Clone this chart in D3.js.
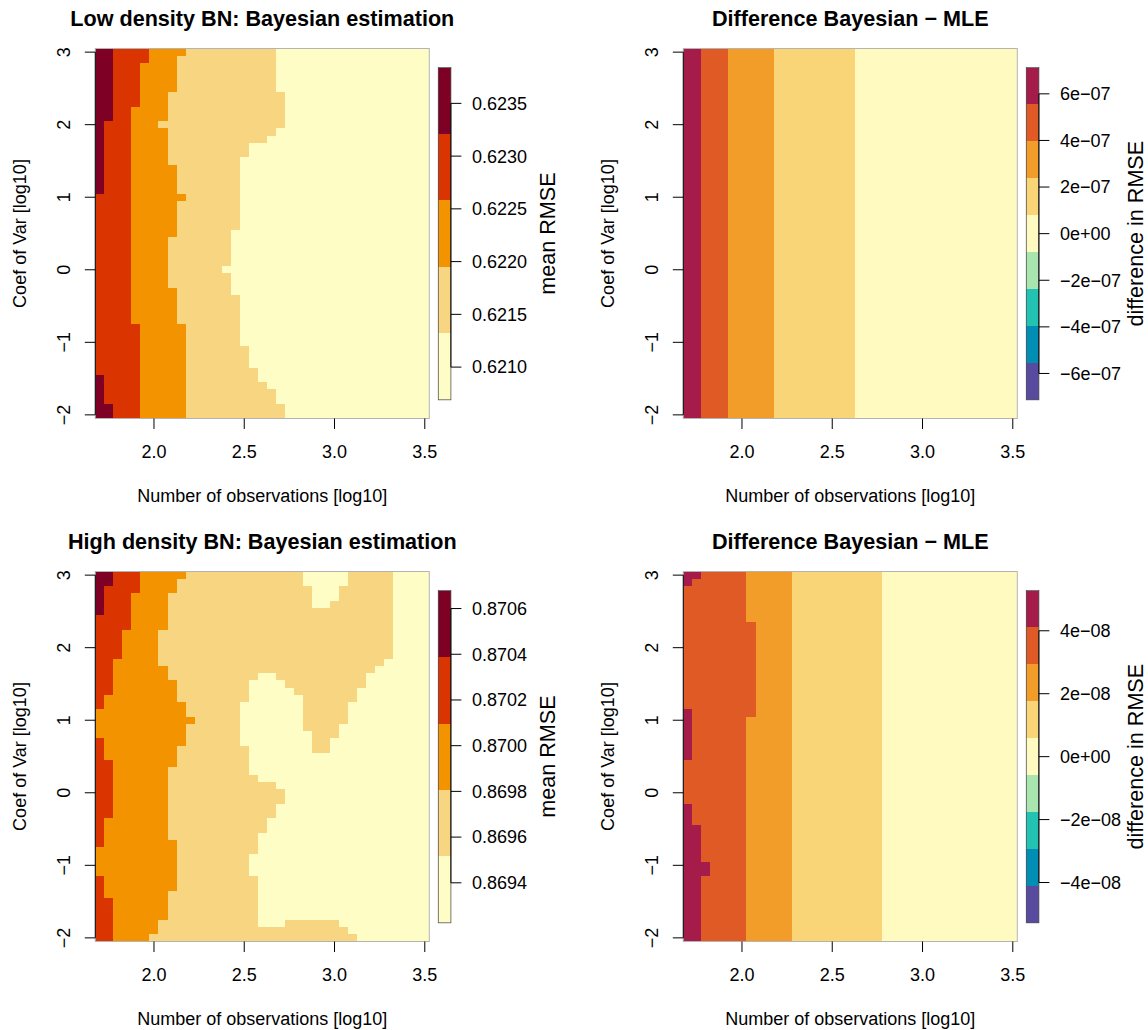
<!DOCTYPE html>
<html lang="en">
<head>
<meta charset="UTF-8">
<title>Bayesian estimation vs MLE - RMSE</title>
<script src="https://cdn.jsdelivr.net/npm/d3@7"></script>
<style>
  body { margin: 0; background: white; }
  svg text { font-family: "Liberation Sans", Arial, Helvetica, sans-serif; fill: black; }
  .cell { shape-rendering: crispEdges; }
  .title { font-weight: bold; font-size: 21.6px; }
  .tick-label, .axis-label { font-size: 18px; }
  .legend-label { font-size: 21.6px; }
</style>
</head>
<body>
<svg id="chart" width="1148" height="1030"></svg>
<script>
// grid: number of observations [log10] (columns) and coef of var [log10] (rows, top to bottom)
const xGrid = [1.70, 1.75, 1.80, 1.85, 1.90, 1.95, 2.00, 2.05, 2.10, 2.15, 2.20, 2.25, 2.30,
  2.35, 2.40, 2.45, 2.50, 2.55, 2.60, 2.65, 2.70, 2.75, 2.80, 2.85, 2.90, 2.95, 3.00, 3.05,
  3.10, 3.15, 3.20, 3.25, 3.30, 3.35, 3.40, 3.45, 3.50];
const yGrid = [3.0, 2.9, 2.8, 2.7, 2.6, 2.5, 2.4, 2.3, 2.2, 2.1, 2.0, 1.9, 1.8, 1.7, 1.6, 1.5,
  1.4, 1.3, 1.2, 1.1, 1.0, 0.9, 0.8, 0.7, 0.6, 0.5, 0.4, 0.3, 0.2, 0.1, 0.0, -0.1, -0.2, -0.3,
  -0.4, -0.5, -0.6, -0.7, -0.8, -0.9, -1.0, -1.1, -1.2, -1.3, -1.4, -1.5, -1.6, -1.7, -1.8,
  -1.9, -2.0];

const titles = ["Low density BN: Bayesian estimation", "Difference Bayesian \u2212 MLE",
  "High density BN: Bayesian estimation", "Difference Bayesian \u2212 MLE"];
const legendTitles = ["mean RMSE", "difference in RMSE", "mean RMSE", "difference in RMSE"];
const xTicks = [2.0, 2.5, 3.0, 3.5];
const yTicks = [-2, -1, 0, 1, 2, 3];

// colour classes, lowest class first
const rmseColors = ["#FEFDC6", "#F8D580", "#F39300", "#DA3500", "#7E0025"];
const diffColors = ["#584B9F", "#008EB4", "#22C3B3", "#A9E5AF", "#FEFAC0",
  "#FAD578", "#F29D29", "#E05A25", "#A51C4A"];

// class breaks of each panel
const lowRmseBreaks = [0.62069, 0.62132, 0.62195, 0.62258, 0.62321, 0.62384];
const lowDiffBreaks = [-7.13e-7, -5.546e-7, -3.962e-7, -2.377e-7, -0.792e-7,
  0.792e-7, 2.377e-7, 3.962e-7, 5.546e-7, 7.13e-7];
const highRmseBreaks = [0.869225, 0.869516, 0.869807, 0.870097, 0.870388, 0.870679];
const highDiffBreaks = [-5.28e-8, -4.107e-8, -2.933e-8, -1.76e-8, -0.587e-8,
  0.587e-8, 1.76e-8, 2.933e-8, 4.107e-8, 5.28e-8];

const lowRmseTicks = [0.6210, 0.6215, 0.6220, 0.6225, 0.6230, 0.6235];
const lowDiffTicks = [-6e-7, -4e-7, -2e-7, 0, 2e-7, 4e-7, 6e-7];
const highRmseTicks = [0.8694, 0.8696, 0.8698, 0.8700, 0.8702, 0.8704, 0.8706];
const highDiffTicks = [-4e-8, -2e-8, 0, 2e-8, 4e-8];

// class of every cell, row by row from the top: [rows repeated, "class:count ..."]
const lowRmseRows = [
  [1, "4:2 3:4 2:4 1:10 0:17"],
  [1, "4:2 3:4 2:3 1:11 0:17"],
  [4, "4:2 3:3 2:4 1:11 0:17"],
  [2, "4:2 3:3 2:3 1:13 0:16"],
  [2, "4:2 3:2 2:4 1:13 0:16"],
  [1, "4:1 3:3 2:3 1:14 0:16"],
  [1, "4:1 3:3 2:4 1:12 0:17"],
  [1, "4:1 3:3 2:4 1:11 0:18"],
  [2, "4:1 3:3 2:4 1:9 0:20"],
  [1, "4:1 3:3 2:4 1:8 0:21"],
  [4, "4:1 3:3 2:5 1:7 0:21"],
  [1, "3:4 2:6 1:6 0:21"],
  [4, "3:4 2:5 1:7 0:21"],
  [1, "3:4 2:5 1:6 0:22"],
  [4, "3:4 2:4 1:7 0:22"],
  [1, "3:4 2:4 1:6 0:23"],
  [2, "3:4 2:4 1:7 0:22"],
  [1, "3:4 2:5 1:6 0:22"],
  [4, "3:4 2:5 1:7 0:21"],
  [3, "3:5 2:5 1:6 0:21"],
  [3, "3:5 2:5 1:7 0:20"],
  [1, "3:5 2:5 1:8 0:19"],
  [1, "4:1 3:4 2:5 1:8 0:19"],
  [1, "4:1 3:4 2:5 1:9 0:18"],
  [2, "4:1 3:4 2:5 1:10 0:17"],
  [2, "4:2 3:3 2:5 1:11 0:16"]
];

const lowDiffRows = [
  [51, "8:2 7:3 6:5 5:9 4:18"]
];

const highRmseRows = [
  [1, "4:2 3:3 2:5 1:13 0:5 1:5 0:4"],
  [1, "4:2 3:3 2:4 1:14 0:5 1:5 0:4"],
  [1, "4:1 3:4 2:4 1:15 0:3 1:6 0:4"],
  [1, "4:1 3:3 2:4 1:16 0:3 1:6 0:4"],
  [1, "4:1 3:3 2:4 1:16 0:2 1:7 0:4"],
  [1, "4:1 3:3 2:4 1:25 0:4"],
  [2, "3:4 2:4 1:25 0:4"],
  [4, "3:3 2:4 1:26 0:4"],
  [1, "3:2 2:5 1:25 0:5"],
  [1, "3:2 2:6 1:23 0:6"],
  [1, "3:2 2:6 1:10 0:2 1:10 0:7"],
  [1, "3:2 2:7 1:8 0:4 1:9 0:7"],
  [1, "3:2 2:7 1:8 0:5 1:7 0:8"],
  [1, "3:1 2:8 1:8 0:6 1:6 0:8"],
  [1, "3:1 2:9 1:6 0:7 1:5 0:9"],
  [1, "2:10 1:6 0:7 1:5 0:9"],
  [1, "2:11 1:5 0:7 1:5 0:9"],
  [1, "2:10 1:6 0:7 1:4 0:10"],
  [1, "2:10 1:6 0:8 1:3 0:10"],
  [1, "3:1 2:9 1:6 0:8 1:2 0:11"],
  [1, "3:1 2:8 1:8 0:7 1:2 0:11"],
  [1, "3:1 2:8 1:8 0:20"],
  [1, "3:2 2:7 1:8 0:20"],
  [1, "3:2 2:6 1:9 0:20"],
  [1, "3:2 2:6 1:10 0:19"],
  [1, "3:2 2:6 1:12 0:17"],
  [2, "3:2 2:6 1:13 0:16"],
  [2, "3:2 2:6 1:12 0:17"],
  [2, "3:1 2:7 1:11 0:18"],
  [1, "3:1 2:7 1:10 0:19"],
  [1, "3:1 2:8 1:9 0:19"],
  [1, "2:9 1:9 0:19"],
  [3, "2:9 1:8 0:20"],
  [2, "3:1 2:8 1:9 0:19"],
  [1, "3:1 2:7 1:10 0:19"],
  [3, "3:2 2:6 1:10 0:19"],
  [1, "3:2 2:5 1:11 0:3 1:6 0:10"],
  [1, "3:2 2:5 1:21 0:9"],
  [1, "3:2 2:4 1:23 0:8"]
];

const highDiffRows = [
  [1, "8:2 7:5 6:5 5:10 4:15"],
  [1, "8:1 7:6 6:5 5:10 4:15"],
  [5, "7:7 6:5 5:10 4:15"],
  [12, "7:8 6:4 5:10 4:15"],
  [1, "8:1 7:7 6:4 5:10 4:15"],
  [6, "8:1 7:6 6:5 5:10 4:15"],
  [6, "7:7 6:5 5:10 4:15"],
  [3, "8:1 7:6 6:5 5:10 4:15"],
  [5, "8:2 7:5 6:5 5:10 4:15"],
  [2, "8:3 7:4 6:5 5:10 4:15"],
  [9, "8:2 7:5 6:5 5:10 4:15"]
];

const svg = d3.select("#chart");

const fmtFixed4 = d3.format(".4f");
// R style exponent labels: 6e-07, 0e+00
const fmtExp = v => {
  const [m, e] = v.toExponential(0).split("e");
  const sign = e[0] === "-" ? "\u2212" : "+";
  const digits = e.slice(1).padStart(2, "0");
  return m.replace("-", "\u2212") + "e" + sign + digits;
};

// expand run length rows into a value matrix (each cell gets its class mid value)
function expand(rows, breaks) {
  const cells = [];
  let r = 0;
  rows.forEach(([n, runs]) => {
    const codes = [];
    runs.split(" ").forEach(s => {
      const [k, len] = s.split(":").map(Number);
      for (let i = 0; i < len; i++) codes.push(k);
    });
    if (codes.length !== xGrid.length) console.warn("bad row", r, codes.length);
    for (let j = 0; j < n; j++) {
      codes.forEach((k, c) => {
        cells.push({ x: xGrid[c], y: yGrid[r], value: (breaks[k] + breaks[k + 1]) / 2 });
      });
      r++;
    }
  });
  if (r !== yGrid.length) console.warn("bad row count", r);
  return cells;
}

const panels = [
  { rows: lowRmseRows, breaks: lowRmseBreaks, colors: rmseColors, ticks: lowRmseTicks, fmt: fmtFixed4, px: 95.3, py: 48.5 },
  { rows: lowDiffRows, breaks: lowDiffBreaks, colors: diffColors, ticks: lowDiffTicks, fmt: fmtExp, px: 683.3, py: 48.5 },
  { rows: highRmseRows, breaks: highRmseBreaks, colors: rmseColors, ticks: highRmseTicks, fmt: fmtFixed4, px: 95.3, py: 571.5 },
  { rows: highDiffRows, breaks: highDiffBreaks, colors: diffColors, ticks: highDiffTicks, fmt: fmtExp, px: 683.3, py: 571.5 }
];

const plotW = 334, plotH = 370;
const dx = (xGrid[1] - xGrid[0]) / 2;
const dy = (yGrid[0] - yGrid[1]) / 2;

panels.forEach((p, i) => {
  const g = svg.append("g");
  const x0 = p.px, x1 = p.px + plotW, y0 = p.py, y1 = p.py + plotH;

  const x = d3.scaleLinear().domain([xGrid[0] - dx, xGrid[xGrid.length - 1] + dx]).range([x0, x1]);
  const y = d3.scaleLinear().domain([yGrid[yGrid.length - 1] - dy, yGrid[0] + dy]).range([y1, y0]);
  const color = d3.scaleThreshold().domain(p.breaks.slice(1, -1)).range(p.colors);

  const cells = expand(p.rows, p.breaks);
  console.log(titles[i], cells.length);

  g.selectAll("rect.cell").data(cells)
    .join("rect")
    .attr("class", "cell")
    .attr("x", d => x(d.x - dx))
    .attr("y", d => y(d.y + dy))
    .attr("width", d => x(d.x + dx) - x(d.x - dx))
    .attr("height", d => y(d.y - dy) - y(d.y + dy))
    .attr("fill", d => color(d.value));

  // box
  g.append("rect")
    .attr("x", x0).attr("y", y0).attr("width", plotW).attr("height", plotH)
    .attr("fill", "none").attr("stroke", "#b4b4b4").attr("stroke-width", 1);

  // y axis
  g.append("line")
    .attr("x1", x0).attr("x2", x0)
    .attr("y1", y(d3.max(yTicks))).attr("y2", y(d3.min(yTicks)))
    .attr("stroke", "black");
  g.selectAll("line.ytick").data(yTicks)
    .join("line")
    .attr("class", "ytick")
    .attr("x1", x0 - 10.5).attr("x2", x0)
    .attr("y1", d => y(d)).attr("y2", d => y(d))
    .attr("stroke", "black");
  g.selectAll("text.ylab").data(yTicks)
    .join("text")
    .attr("class", "ylab tick-label")
    .attr("text-anchor", "middle")
    .attr("transform", d => `translate(${x0 - 25.3},${y(d)}) rotate(-90)`)
    .text(d3.format("d"));

  // x axis
  g.selectAll("line.xtick").data(xTicks)
    .join("line")
    .attr("class", "xtick")
    .attr("x1", d => x(d)).attr("x2", d => x(d))
    .attr("y1", y1).attr("y2", y1 + 10.5)
    .attr("stroke", "black");
  g.selectAll("text.xlab").data(xTicks)
    .join("text")
    .attr("class", "xlab tick-label")
    .attr("text-anchor", "middle")
    .attr("x", d => x(d)).attr("y", y1 + 39)
    .text(d3.format(".1f"));

  // labels
  g.append("text").attr("class", "title")
    .attr("text-anchor", "middle")
    .attr("x", (x0 + x1) / 2).attr("y", y0 - 23)
    .text(titles[i]);
  g.append("text").attr("class", "axis-label")
    .attr("text-anchor", "middle")
    .attr("x", (x0 + x1) / 2).attr("y", y1 + 83)
    .text("Number of observations [log10]");
  g.append("text").attr("class", "axis-label")
    .attr("text-anchor", "middle")
    .attr("transform", `translate(${x0 - 69},${(y0 + y1) / 2}) rotate(-90)`)
    .text("Coef of Var [log10]");

  // colour legend
  const lx0 = x1 + 9, lx1 = lx0 + 12.6;
  const ly0 = y0 + 19, ly1 = y1 - 18.7;
  const ly = d3.scaleLinear().domain([p.breaks[0], p.breaks[p.breaks.length - 1]]).range([ly1, ly0]);
  const bands = d3.pairs(p.breaks);
  g.selectAll("rect.band").data(bands)
    .join("rect")
    .attr("class", "band cell")
    .attr("x", lx0).attr("width", lx1 - lx0)
    .attr("y", d => ly(d[1]))
    .attr("height", d => ly(d[0]) - ly(d[1]))
    .attr("fill", d => color((d[0] + d[1]) / 2));
  g.append("rect")
    .attr("x", lx0).attr("y", ly0).attr("width", lx1 - lx0).attr("height", ly1 - ly0)
    .attr("fill", "none").attr("stroke", "#555").attr("stroke-width", 0.8);
  g.append("line")
    .attr("x1", lx1).attr("x2", lx1)
    .attr("y1", ly(d3.max(p.ticks))).attr("y2", ly(d3.min(p.ticks)))
    .attr("stroke", "black");
  g.selectAll("line.ltick").data(p.ticks)
    .join("line")
    .attr("class", "ltick")
    .attr("x1", lx1).attr("x2", lx1 + 10.5)
    .attr("y1", d => ly(d)).attr("y2", d => ly(d))
    .attr("stroke", "black");
  g.selectAll("text.llab").data(p.ticks)
    .join("text")
    .attr("class", "llab tick-label")
    .attr("x", lx1 + 21).attr("y", d => ly(d) + 6.4)
    .text(p.fmt);
  g.append("text").attr("class", "legend-label")
    .attr("text-anchor", "middle")
    .attr("transform", `translate(${x1 + 126},${(ly0 + ly1) / 2}) rotate(-90)`)
    .text(legendTitles[i]);
});
</script>
</body>
</html>
